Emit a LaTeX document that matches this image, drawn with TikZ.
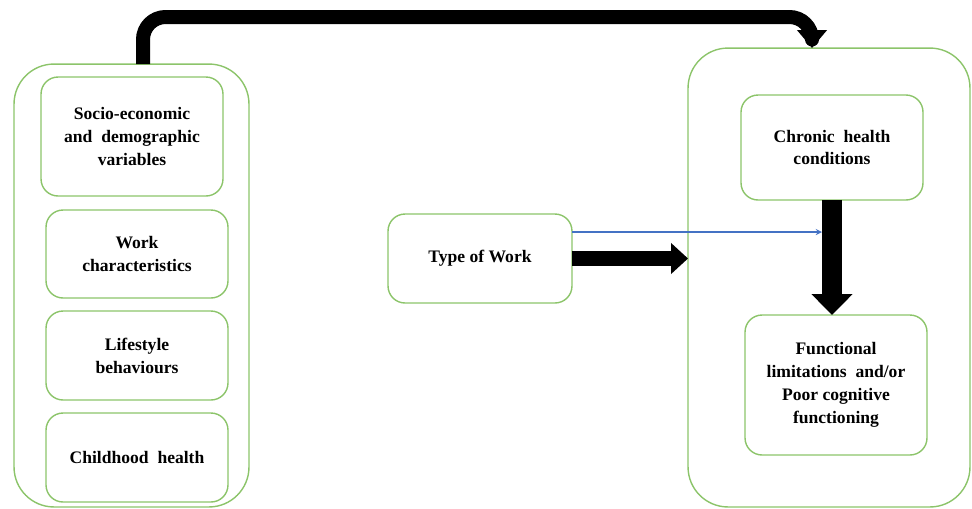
\documentclass[tikz,border=0pt]{standalone}
\usepackage{fontspec}
\setmainfont{Liberation Serif}
\usetikzlibrary{arrows.meta}
\definecolor{boxgreen}{HTML}{8CC46A}
\definecolor{lineblue}{HTML}{4472C4}
\begin{document}
\begin{tikzpicture}[x=0.02cm, y=-0.02cm, font=\bfseries\fontsize{10}{13}\selectfont, line join=round, >=stealth]
				\tikzset{box/.style={draw=boxgreen, line width=0.8pt, rounded corners=0.34cm, align=center, inner sep=0pt, outer sep=0pt, minimum width=3.64cm},
						 outer/.style={draw=boxgreen, line width=0.8pt, rounded corners=0.8cm, inner sep=0pt, outer sep=0pt}}
				\useasboundingbox (0,0) rectangle (972,508);
				% left group
				\node[outer, minimum width=4.7cm, minimum height=8.86cm] (lft) at (131.5,285.5) {};
				\node[box, minimum height=2.38cm] (soc) at (132,136.5) {Socio-economic\\and\ \ demographic\\variables};
				\node[box, minimum height=1.76cm] (wrk) at (137,254) {Work\\characteristics};
				\node[box, minimum height=1.78cm] (lif) at (137,355.5) {Lifestyle\\behaviours};
				\node[box, minimum height=1.78cm] (chi) at (137,457.5) {Childhood\ \ health};
				% middle
				\node[box, minimum width=3.68cm, minimum height=1.78cm, text depth=0.6ex] (typ) at (480,258.5) {Type of Work};
				% right group
				\node[outer, minimum width=5.64cm, minimum height=9.18cm] (rgt) at (829,277.5) {};
				\node[box, minimum height=2.1cm] (chr) at (832,147.5) {Chronic\ \ health\\conditions};
				\node[box, minimum height=2.8cm] (fun) at (836,385) {Functional\\limitations\ \ and/or\\Poor cognitive\\functioning};
				% arrows
				\coordinate (bend) at (143,17);
				\coordinate (drop) at (812,17);
				\coordinate (blu) at (822,232);
				\draw[line width=0.28cm, rounded corners=0.45cm, -{Triangle[width=0.58cm, length=0.36cm]}] (lft.north -| bend) -- (bend) -- (drop) -- (rgt.north -| drop);
				\draw[lineblue, line width=0.6pt, ->] (blu -| typ.east) -- (blu);
				\draw[line width=0.3cm, -{Triangle[width=0.6cm, length=0.34cm]}] (typ.east) -- (typ.east -| rgt.west);
				\draw[line width=0.4cm, -{Triangle[width=0.8cm, length=0.42cm]}] (chr.south) -- (chr.south |- fun.north);
\end{tikzpicture}
\end{document}
